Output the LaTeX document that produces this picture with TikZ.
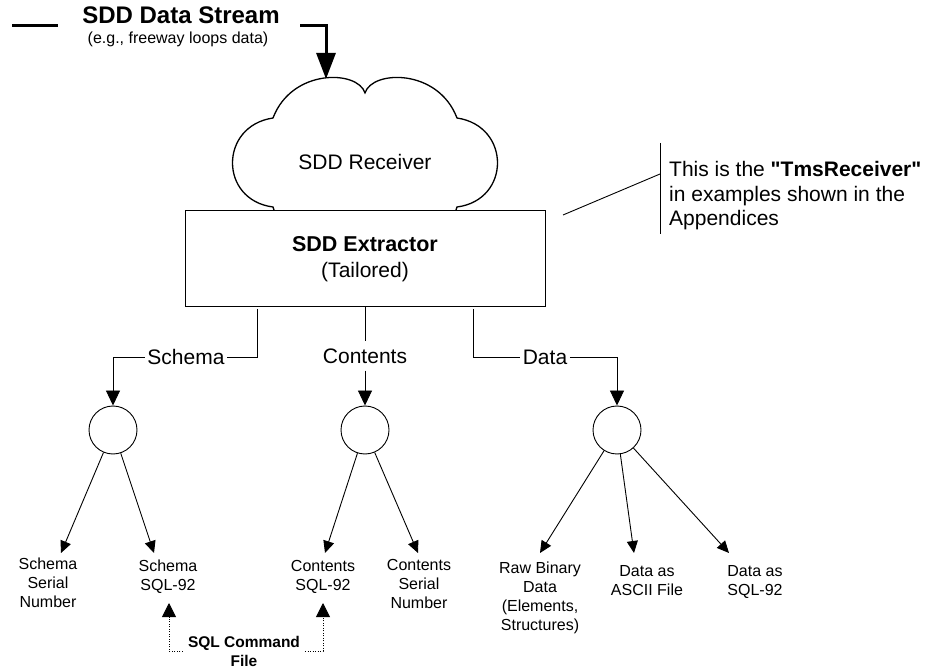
\documentclass[tikz,border=0pt]{standalone}
\usepackage{fontspec}
\setmainfont{Liberation Sans}[Ligatures=TeXOff]
\usetikzlibrary{arrows.meta,calc}
\begin{document}
\begin{tikzpicture}[x=1pt,y=-1pt,
  conn/.style={line width=0.9pt},
  br/.style={conn, -{Triangle[length=15pt,width=14pt]}},
  ch/.style={conn, -{Triangle[length=12pt,width=11pt]}},
  dotl/.style={line width=0.9pt, dash pattern=on 1pt off 1.5pt, -{Triangle[length=14pt,width=14pt]}},
  circ/.style={draw, circle, minimum size=48pt, inner sep=0pt, line width=0.9pt},
  big/.style={font=\fontsize{21}{24.5}\selectfont, inner sep=0pt},
  small/.style={font=\fontsize{16}{19}\selectfont, align=center, inner sep=0pt, anchor=north},
  thick stream/.style={line width=3pt}]
\useasboundingbox (0,0) rectangle (930,668);

% title
\node[font=\bfseries\fontsize{24}{28}\selectfont, inner sep=0pt] (title) at (181,15.5) {SDD Data Stream};
\node[font=\fontsize{16}{19}\selectfont, inner sep=0pt] (sub) at (178,39) {(e.g., freeway loops data)};
\coordinate (sl1) at (12,26);
\coordinate (sl2) at (58,26);
\coordinate (sr1) at (300,26);
\coordinate (cloudtop) at (326,79);
\draw[thick stream] (sl1) -- (sl2);
\draw[thick stream, -{Triangle[length=26pt,width=19pt]}] (sr1) -| (cloudtop);

% cloud
\draw[line width=1.3pt, fill=white]
  (274,210) -- (273,207)
  .. controls (219,200) and (219,126) .. (273,118)
  .. controls (292,68) and (358,70) .. (365,93)
  .. controls (372,70) and (438,68) .. (457,118)
  .. controls (511,126) and (511,200) .. (457,207)
  -- (456,210);
\node[big] (recv) at (365,162) {SDD Receiver};

% extractor
\node[draw, conn, fill=white, minimum width=360pt, minimum height=96pt, inner sep=0pt] (ext) at (365,258) {};
\node[big, font=\bfseries\fontsize{21.5}{24.5}\selectfont] (extname) at (365,244) {SDD Extractor};
\node[big] (exttail) at (365,272) {(Tailored)};

% callout
\coordinate (cv1) at (660,143);
\coordinate (cv2) at (660,234);
\coordinate (cd) at (563,215);
\coordinate (cj) at (660,174);
\draw[conn] (cv1) -- (cv2);
\draw[conn] (cd) -- (cj);
\node[big, anchor=north west, align=left] (note) at (669,161.5)
  {This is the \textbf{"TmsReceiver"}\\in examples shown in the\\Appendices};

% branch labels
\node[big, inner xsep=2.5pt] (schema) at (186,357) {Schema};
\node[big, inner ysep=7pt] (contents) at (365,356) {Contents};
\node[big, inner xsep=2.5pt] (data) at (545,357) {Data};

% circles
\node[circ] (c1) at (113,430) {};
\node[circ] (c2) at (365,430) {};
\node[circ] (c3) at (617,430) {};

% branches
\coordinate (sch0) at (257,309);
\coordinate (dat0) at (473,309);
\draw[conn] (sch0) |- (schema.east);
\draw[br] (schema.west) -| (c1.north);
\draw[conn] (ext.south) -- (contents.north);
\draw[br] (contents.south) -- (c2.north);
\draw[conn] (dat0) |- (data.west);
\draw[br] (data.east) -| (c3.north);

% leaf labels
\node[small] (ssn) at (48,558) {Schema\\Serial\\Number};
\node[small] (ssql) at (168,560) {Schema\\SQL-92};
\node[small] (csql) at (323,560) {Contents\\SQL-92};
\node[small] (csn) at (419,559) {Contents\\Serial\\Number};
\node[small] (raw) at (540,562) {Raw Binary\\Data\\(Elements,\\Structures)};
\node[small] (ascii) at (647,565) {Data as\\ASCII File};
\node[small] (dsql) at (755,565) {Data as\\SQL-92};

% leaf arrow tips
\coordinate (t1) at (61,553);
\coordinate (t2) at (154,553);
\coordinate (t3) at (325,553);
\coordinate (t4) at (418,553);
\coordinate (t5) at (540,553);
\coordinate (t6) at (634,553);
\coordinate (t7) at (729,553);
\draw[ch] (c1) -- (t1);
\draw[ch] (c1) -- (t2);
\draw[ch] (c2) -- (t3);
\draw[ch] (c2) -- (t4);
\draw[ch] (c3) -- (t5);
\draw[ch] (c3) -- (t6);
\draw[ch] (c3) -- (t7);

% SQL command file
\node[font=\bfseries\fontsize{15.5}{19}\selectfont, align=center, inner xsep=5pt, inner ysep=0pt] (sqlf) at (244,651) {SQL Command\\File};
\coordinate (t8) at (169,603);
\coordinate (t9) at (323,603);
\draw[dotl] (sqlf.west) -| (t8);
\draw[dotl] (sqlf.east) -| (t9);
\end{tikzpicture}
\end{document}
